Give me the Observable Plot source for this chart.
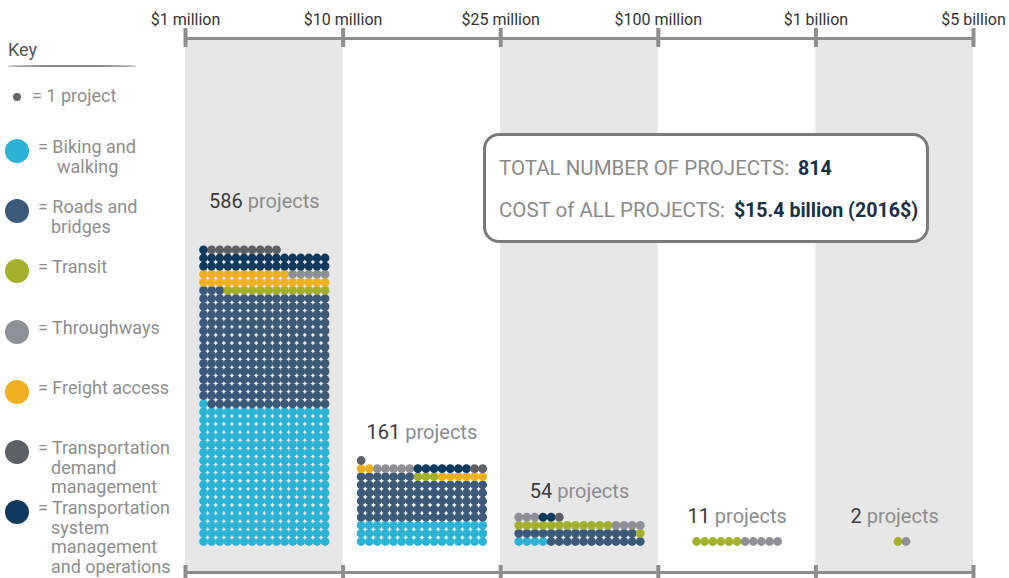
<!DOCTYPE html>
<html><head><meta charset="utf-8">
<script src="https://cdn.jsdelivr.net/npm/d3@7"></script>
<script src="https://cdn.jsdelivr.net/npm/@observablehq/plot@0.6"></script>
<style>
body{margin:0;background:#fff;font-family:Roboto,"Open Sans",sans-serif;}
#wrap{position:relative;width:1009px;height:578px;overflow:hidden;}
#chart{position:absolute;left:0;top:0;}
.k{position:absolute;white-space:nowrap;line-height:20px;color:#8e8e8e;font-size:18px;}
.kc{position:absolute;border-radius:50%;}
#box{position:absolute;left:483px;top:133px;width:440px;height:104px;border:3px solid #7a7a7a;border-radius:16px;background:#fff;}
#box .ln{position:absolute;left:13px;white-space:nowrap;font-size:20.5px;line-height:24px;color:#8a8a8a;}
#box b{color:#1b2f46;font-weight:700;margin-left:9px;font-size:19.6px;}
</style></head><body>
<div id="wrap"><div id="chart"></div><div id="key"></div><div id="box"></div></div>
<script>
// ---- data ----
const tickLabels = ["$1 million", "$10 million", "$25 million", "$100 million", "$1 billion", "$5 billion"];
const binNames = ["$1M–$10M", "$10M–$25M", "$25M–$100M", "$100M–$1B", "$1B–$5B"];
const categories = ["Biking and walking", "Roads and bridges", "Transit", "Freight access", "Throughways",
  "Transportation system management and operations", "Transportation demand management"];
const catColors = ["#2bb3d6", "#3b5a79", "#a3b12a", "#eeb01f", "#8d9094", "#0f395d", "#5d6065"];
// projects per cost bin, for each category
const biking      = [273, 48, 4, 0, 0];
const roads       = [226, 87, 27, 0, 0];
const transit     = [13, 3, 13, 6, 1];
const freight     = [27, 8, 0, 0, 0];
const throughways = [5, 5, 7, 5, 1];
const tsmo        = [33, 7, 2, 0, 0];
const tdm         = [9, 3, 1, 0, 0];
const totalProjects = 814;
const totalCost = "$15.4 billion (2016$)";
// key order and wording
const keyOrder = [0, 1, 2, 4, 3, 6, 5];
const keyLines = [["Biking and", "walking"], ["Roads and", "bridges"], ["Transit"], ["Throughways"],
  ["Freight access"], ["Transportation", "demand", "management"],
  ["Transportation", "system", "management", "and operations"]];

// ---- layout ----
const W = 1009, H = 578, mL = 185, mR = 36, mT = 38, mB = 6;
const rowPx = 8.1, bottomDotPx = 541, cols = 16;
const yMin = -(H - mB - bottomDotPx) / rowPx;
const yMax = yMin + (H - mT - mB) / rowPx;
const binPx = (W - mL - mR) / binNames.length;
const xStep = rowPx / binPx;
const labelLift = [6, 3.4, 3.15, 3.1, 3.1];
const rowNudge = [0, 0, 0, 0, 0.9]; // small horizontal offset (in dot steps) of the last bin's row

const series = [biking, roads, transit, freight, throughways, tsmo, tdm];
const dots = [];
const labels = [];
binNames.forEach((b, bi) => {
  const seq = [];
  categories.forEach((c, ci) => { for (let k = 0; k < series[ci][bi]; k++) seq.push(c); });
  const n = seq.length, nc = Math.min(cols, n);
  seq.forEach((c, k) => dots.push({bin: bi, category: c, col: k % cols, row: Math.floor(k / cols), nc}));
  labels.push({bin: bi, total: n, top: Math.floor((n - 1) / cols)});
});
const bounds = d3.range(binNames.length + 1);
const shaded = bounds.filter(i => i < binNames.length && i % 2 === 0);
const axisGrey = "#8e8e8e";

const chart = Plot.plot({
  width: W, height: H, marginLeft: mL, marginRight: mR, marginTop: mT, marginBottom: mB,
  style: {fontFamily: "Roboto, sans-serif", background: "transparent"},
  x: {domain: [0, binNames.length], axis: null},
  y: {domain: [yMin, yMax], axis: null},
  color: {domain: categories, range: catColors},
  marks: [
    Plot.rect(shaded, {x1: d => d, x2: d => d + 1, y1: () => yMin, y2: () => yMax, fill: "#e7e7e7"}),
    Plot.ruleY([yMax, yMin], {x1: () => 0, x2: () => binNames.length, stroke: axisGrey, strokeWidth: 3}),
    Plot.ruleX(bounds, {x: d => d, y1: () => yMax - 9 / rowPx, y2: () => yMax + 10 / rowPx, stroke: axisGrey, strokeWidth: 4}),
    Plot.ruleX(bounds, {x: d => d, y1: () => yMin - 8 / rowPx, y2: () => yMin + 7 / rowPx, stroke: axisGrey, strokeWidth: 4}),
    Plot.text(bounds, {x: d => d, y: () => yMax + 19 / rowPx, text: d => tickLabels[d], fontSize: 16, fill: "#333"}),
    Plot.dot(dots, {x: d => d.bin + 0.5 + (d.col - (d.nc - 1) / 2 + rowNudge[d.bin]) * xStep, y: "row", r: 4.4, fill: "category"}),
    Plot.text(labels, {x: d => d.bin + 0.5, y: d => d.top + labelLift[d.bin], text: d => d.total + " projects", fontSize: 20, fill: "#8c8c8c"})
  ]
});
chart.querySelectorAll("text").forEach(t => {
  const m = /^(\d+) projects$/.exec(t.textContent);
  if (m) t.innerHTML = `<tspan fill="#3a3a3a">${m[1]}</tspan> projects`;
});
document.getElementById("chart").append(chart);

// ---- key ----
const key = document.getElementById("key");
function add(html, css, cls = "k") { const e = document.createElement("div"); e.className = cls; e.innerHTML = html; Object.assign(e.style, css); key.append(e); }
add("Key", {left: "8px", top: "38px", color: "#555", fontSize: "18px", lineHeight: "24px"});
add("", {left: "8px", top: "65px", width: "128px", height: "1.5px", background: "#888"}, "kc");
add("", {left: "13px", top: "93px", width: "8px", height: "8px", background: "#666"}, "kc");
add("= 1 project", {left: "32px", top: "86px"});
keyOrder.forEach((ci, i) => {
  const cy = 151 + i * 60.2;
  add("", {left: "5px", top: (cy - 12) + "px", width: "24px", height: "24px", background: catColors[ci]}, "kc");
  keyLines[i].forEach((ln, j) => {
    const indent = j === 0 ? 38 : (i === 0 ? 57 : 51);
    add(j === 0 ? "= " + ln : ln, {left: indent + "px", top: (cy - 14 + j * 19.6) + "px"});
  });
});

// ---- summary box ----
document.getElementById("box").innerHTML =
  `<div class="ln" style="top:20px">TOTAL NUMBER OF PROJECTS:<b>${totalProjects}</b></div>` +
  `<div class="ln" style="top:62px">COST of ALL PROJECTS:<b>${totalCost}</b></div>`;
</script>
</body></html>
